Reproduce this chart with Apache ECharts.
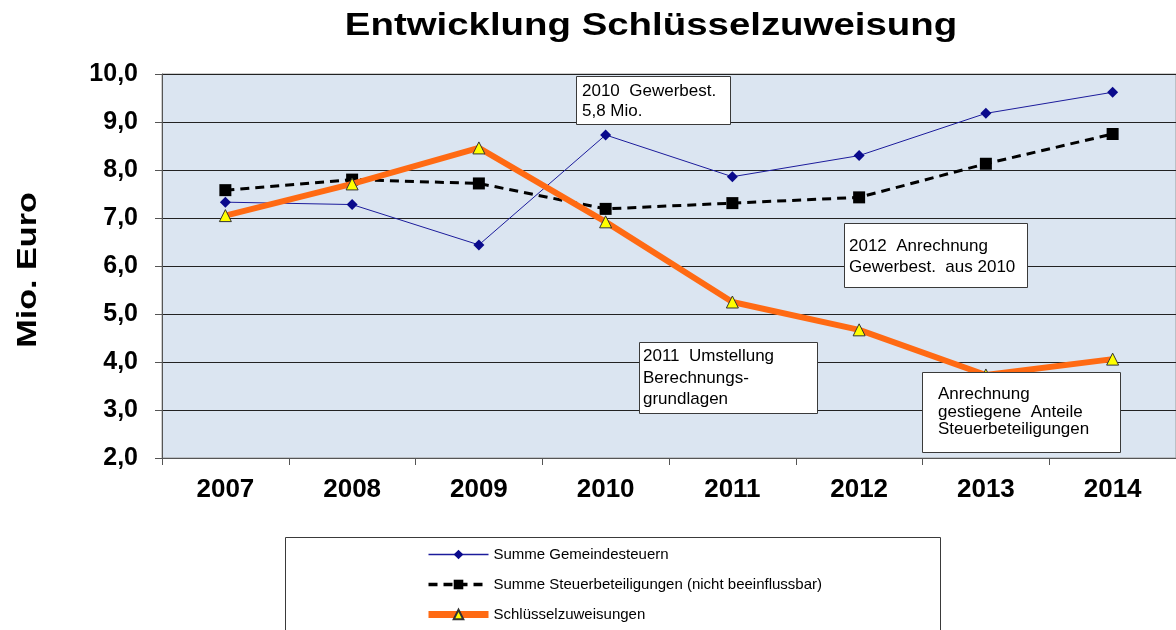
<!DOCTYPE html>
<html>
<head>
    <meta charset="utf-8">
    <title>Entwicklung Schlüsselzuweisung</title>
    <script src="https://cdn.jsdelivr.net/npm/echarts@6/dist/echarts.min.js"></script>
    <style>
        *{
            margin: 0;
            padding: 0;
        }
        html,body{
            width: 100%;
            height: 100%;
            overflow: hidden;
            background: #fff;
        }
        #main{
            width: 1176px;
            height: 630px;
        }
    </style>
</head>
<body>
<div id="main"></div>
<script>
    // Jahre und Werte (Mio. Euro)
    let years = ['2007', '2008', '2009', '2010', '2011', '2012', '2013', '2014'];
    let gemeindesteuern = [7.33, 7.28, 6.44, 8.73, 7.86, 8.30, 9.18, 9.62];
    let steuerbeteiligungen = [7.58, 7.80, 7.72, 7.19, 7.31, 7.43, 8.13, 8.75];
    let schluesselzuweisungen = [7.05, 7.71, 8.46, 6.92, 5.25, 4.67, 3.73, 4.06];
    let seriesNames = [
        'Summe Gemeindesteuern',
        'Summe Steuerbeteiligungen (nicht beeinflussbar)',
        'Schlüsselzuweisungen'
    ];

    let font = '"Liberation Sans", Arial, sans-serif';

    // Textkästen im Diagramm (liegen über den Linien)
    function note(x, y, w, h, text, padLeft, padTop, lh) {
        return {
            type: 'group',
            x: x,
            y: y,
            z: 100,
            children: [{
                type: 'rect',
                z: 100,
                shape: {x: 0.5, y: 0.5, width: w, height: h},
                style: {fill: '#fff', stroke: '#3a3a3a', lineWidth: 1}
            }, {
                type: 'text',
                z: 101,
                x: padLeft,
                y: padTop,
                style: {
                    text: text,
                    font: '17px ' + font,
                    fill: '#000',
                    lineHeight: lh
                }
            }]
        };
    }

    let myCharts = echarts.init(document.getElementById('main'));
    let option = {
        animation: false,
        backgroundColor: '#fff',
        grid: {
            left: 162,
            top: 74,
            width: 1016,
            height: 384,
            show: true,
            backgroundColor: '#dbe5f1',
            borderColor: '#9a9a9a',
            borderWidth: 1
        },
        xAxis: {
            type: 'category',
            data: years,
            boundaryGap: true,
            axisLine: {lineStyle: {color: '#555', width: 1}},
            axisTick: {show: true, length: 7, lineStyle: {color: '#555'}},
            axisLabel: {
                margin: 19,
                fontFamily: font,
                fontSize: 26,
                fontWeight: 'bold',
                color: '#000'
            }
        },
        yAxis: {
            type: 'value',
            min: 2,
            max: 10,
            interval: 1,
            axisLine: {show: true, lineStyle: {color: '#555', width: 1}},
            axisTick: {show: true, length: 7, lineStyle: {color: '#555'}},
            splitLine: {lineStyle: {color: '#222', width: 1}},
            axisLabel: {
                margin: 24,
                fontFamily: font,
                fontSize: 25,
                fontWeight: 'bold',
                color: '#000',
                formatter: v => v.toFixed(1).replace('.', ',')
            }
        },
        legend: {
            orient: 'vertical',
            left: 420,
            top: 542,
            height: 150,
            itemWidth: 60,
            itemHeight: 12,
            itemGap: 15,
            data: [
                {name: seriesNames[0], lineStyle: {width: 1.5}},
                {name: seriesNames[1], lineStyle: {width: 3.5}},
                {name: seriesNames[2], lineStyle: {width: 7}}
            ],
            textStyle: {
                fontFamily: font,
                fontSize: 15,
                color: '#000'
            }
        },
        series: [{
            name: seriesNames[0],
            type: 'line',
            data: gemeindesteuern,
            symbol: 'diamond',
            symbolSize: 11,
            color: '#0a0a8c',
            lineStyle: {color: '#1c1c9c', width: 1},
            itemStyle: {color: '#0a0a8c'},
            z: 2
        }, {
            name: seriesNames[1],
            type: 'line',
            data: steuerbeteiligungen,
            symbol: 'rect',
            symbolSize: 12,
            color: '#000',
            lineStyle: {color: '#000', width: 3, type: [9, 6]},
            itemStyle: {color: '#000'},
            z: 3
        }, {
            name: seriesNames[2],
            type: 'line',
            data: schluesselzuweisungen,
            symbol: 'triangle',
            symbolSize: 12,
            color: '#ff6a13',
            lineStyle: {color: '#ff6a13', width: 6},
            itemStyle: {color: '#ffff00', borderColor: '#333', borderWidth: 1},
            z: 4
        }],
        graphic: [
            {
                type: 'text',
                x: 651,
                y: 26,
                scaleX: 1.2,
                style: {
                    text: 'Entwicklung Schlüsselzuweisung',
                    font: 'bold 32px ' + font,
                    fill: '#000',
                    align: 'center',
                    verticalAlign: 'middle'
                }
            },
            {
                type: 'text',
                x: 28,
                y: 270,
                rotation: Math.PI / 2,
                scaleX: 1.22,
                style: {
                    text: 'Mio. Euro',
                    font: 'bold 28px ' + font,
                    fill: '#000',
                    align: 'center',
                    verticalAlign: 'middle'
                }
            },
            note(576, 76, 154, 48, '2010  Gewerbest.\n5,8 Mio.', 6, 5, 20),
            note(844, 223, 183, 64, '2012  Anrechnung\nGewerbest.  aus 2010', 5, 13, 21),
            note(639, 342, 178, 71, '2011  Umstellung\nBerechnungs-\ngrundlagen', 4, 4, 21.5),
            note(922, 372, 198, 80, 'Anrechnung\ngestiegene  Anteile\nSteuerbeteiligungen', 16, 14, 17.5),
            {
                type: 'rect',
                x: 285,
                y: 537,
                z: 0,
                shape: {x: 0.5, y: 0.5, width: 655, height: 100},
                style: {fill: '#fff', stroke: '#3a3a3a', lineWidth: 1}
            }
        ]
    };
    myCharts.setOption(option);
</script>
</body>
</html>
